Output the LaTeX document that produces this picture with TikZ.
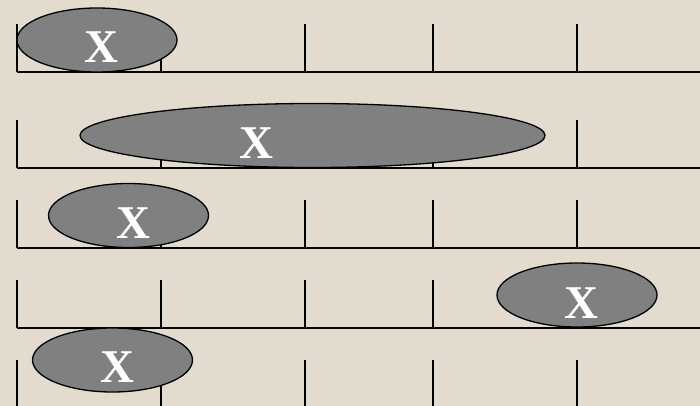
\documentclass[tikz,border=0pt]{standalone}
\usepackage{fontspec}
\setmainfont{Liberation Serif}
\usetikzlibrary{shapes.geometric}
\definecolor{paper}{RGB}{227,219,205}
\definecolor{blobgray}{RGB}{128,128,128}
\tikzset{
  blob/.style={ellipse, draw=black, line width=1.3pt, fill=blobgray, inner sep=0pt, minimum height=64pt},
  letter/.style={text=white, inner sep=0pt, font=\bfseries\fontsize{47}{47}\selectfont},
  rule/.style={line width=1.6pt}
}
\begin{document}
\begin{tikzpicture}[x=1pt, y=-1pt]
    % Background
    \fill[paper] (0,0) rectangle (700,406);
    \useasboundingbox (0,0) rectangle (700,406);

    % Rows with ticks
    \foreach \base/\top in {72/24, 168/120, 248/200, 328/280, 406/360} {
        \ifnum\base<400
            \draw[rule] (17,\base) -- (700,\base);
        \fi
        \foreach \x in {17, 161, 305, 433, 577} {
            \draw[rule] (\x,\top) -- (\x,\base);
        }
    }

    % Ellipses
    \node[blob, minimum width=160pt] (e1) at (97,40) {};
    \node[blob, minimum width=465pt] (e2) at (312.5,135.5) {};
    \node[blob, minimum width=160pt] (e3) at (128.5,215.5) {};
    \node[blob, minimum width=160pt] (e4) at (577,295) {};
    \node[blob, minimum width=160pt] (e5) at (112.5,360) {};

    % Labels
    \node[letter] (x1) at (101,47.5) {X};
    \node[letter] (x2) at (256.5,143.5) {X};
    \node[letter] (x3) at (133,223.5) {X};
    \node[letter] (x4) at (581,303) {X};
    \node[letter] (x5) at (117,367.5) {X};
\end{tikzpicture}
\end{document}
